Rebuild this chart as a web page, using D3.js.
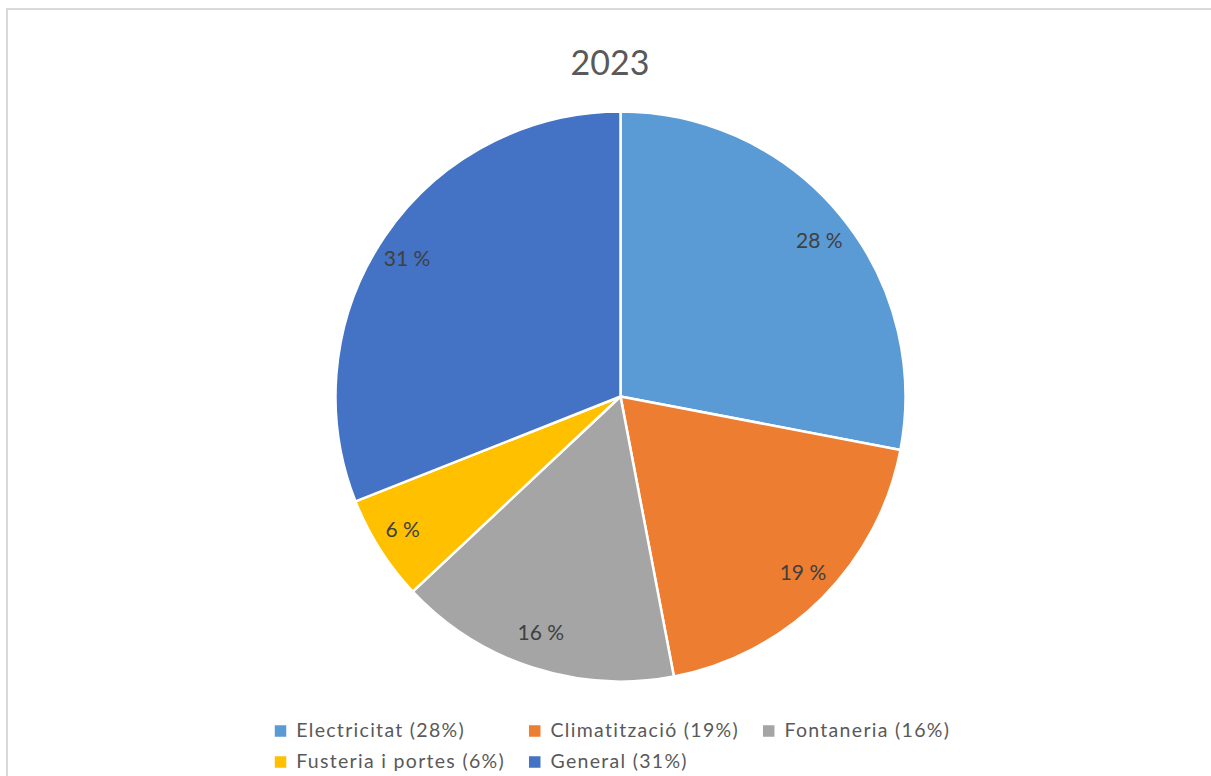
<!DOCTYPE html>
<html>
<head>
<meta charset="utf-8">
<script src="https://cdn.jsdelivr.net/npm/d3@7"></script>
<style>
  html, body { margin: 0; padding: 0; background: #ffffff; }
  svg { display: block; }
  text { font-family: Lato, "Open Sans", sans-serif; }
</style>
</head>
<body>
<svg id="chart" width="1211" height="776"></svg>
<script>
const title = "2023";
const categories = ["Electricitat", "Climatització", "Fontaneria", "Fusteria i portes", "General"];
const values = [28, 19, 16, 6, 31];
const colors = ["#5B9BD5", "#ED7D31", "#A5A5A5", "#FFC000", "#4472C4"];

const W = 1211, H = 776;
const svg = d3.select("#chart");

// chart area border
svg.append("rect")
  .attr("x", 7).attr("y", 9)
  .attr("width", W + 20).attr("height", H + 20)
  .attr("fill", "#ffffff")
  .attr("stroke", "#d9d9d9").attr("stroke-width", 2);

// title
svg.append("text")
  .attr("x", 610).attr("y", 75)
  .attr("text-anchor", "middle")
  .attr("font-size", 34)
  .attr("fill", "#595959")
  .text(title);

const cx = 620.5, cy = 396.5, R = 285;
const labelRx = 258, labelRy = 247;
const data = categories.map((c, i) => ({ name: c, value: values[i], color: colors[i] }));
const pie = d3.pie().sort(null).value(d => d.value);
const arcs = pie(data);
const arc = d3.arc().innerRadius(0).outerRadius(R);

const g = svg.append("g").attr("transform", `translate(${cx},${cy})`);
g.selectAll("path.slice").data(arcs).join("path")
  .attr("class", "slice")
  .attr("d", arc)
  .attr("fill", d => d.data.color)
  .attr("stroke", "#ffffff")
  .attr("stroke-width", 2.5)
  .attr("stroke-linejoin", "round");

const total = d3.sum(values);
g.selectAll("text.lbl").data(arcs).join("text")
  .attr("class", "lbl")
  .attr("transform", d => {
    const m = (d.startAngle + d.endAngle) / 2;
    return `translate(${labelRx * Math.sin(m)},${-labelRy * Math.cos(m) + 1})`;
  })
  .attr("text-anchor", "middle")
  .attr("dy", "0.36em")
  .attr("font-size", 21)
  .attr("fill", "#404040")
  .text(d => Math.round(d.data.value / total * 100) + " %");

// legend
const legendFont = 19.5, legendSpacing = 1.3;
const rows = [[0, 1, 2], [3, 4]];
const rowY = [731, 762];
const mk = 11.5, mkGap = 10, colGap = 24;
const leg = svg.append("g");
const measure = leg.append("text").attr("font-size", legendFont).attr("letter-spacing", legendSpacing);
const labels = data.map(d => `${d.name} (${Math.round(d.value / total * 100)}%)`);
const widths = labels.map(t => { measure.text(t); return measure.node().getBBox().width; });
measure.remove();
const nCols = 3;
const colW = d3.range(nCols).map(c => d3.max(rows, r => r[c] !== undefined ? widths[r[c]] : 0) + mk + mkGap);
const totalW = d3.sum(colW) + colGap * (nCols - 1);
const startX = 612.5 - totalW / 2;
const colX = colW.map((w, i) => startX + d3.sum(colW.slice(0, i)) + colGap * i);

rows.forEach((r, ri) => {
  r.forEach((idx, ci) => {
    const x = colX[ci], y = rowY[ri];
    leg.append("rect")
      .attr("x", x).attr("y", y - mk / 2)
      .attr("width", mk).attr("height", mk)
      .attr("fill", colors[idx]);
    leg.append("text")
      .attr("x", x + mk + mkGap).attr("y", y - 1)
      .attr("dy", "0.36em")
      .attr("font-size", legendFont)
      .attr("letter-spacing", legendSpacing)
      .attr("fill", "#595959")
      .text(labels[idx]);
  });
});
</script>
</body>
</html>
